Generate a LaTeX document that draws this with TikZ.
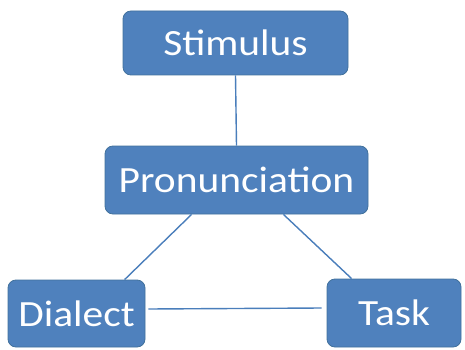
\documentclass[tikz,border=0pt]{standalone}
\usepackage{fontspec}
\setmainfont{Carlito}
\newfontfamily\boxfont[FakeStretch=1.12]{Carlito}
\definecolor{boxblue}{HTML}{4F81BD}
\definecolor{boxedge}{HTML}{41719C}
\definecolor{linkblue}{HTML}{4A7EBB}
\begin{document}
\begin{tikzpicture}[x=1pt,y=-1pt,
  box/.style={draw=boxedge,line width=0.8pt,fill=boxblue,rounded corners=8pt,text=white,
    font=\boxfont\fontsize{37}{40}\selectfont,inner sep=0pt},
  link/.style={draw=linkblue,line width=1.4pt}]
\useasboundingbox (0,0) rectangle (465,350);
\node[box,minimum width=225pt,minimum height=64pt] (s) at (235.5,43) {Stimulus};
\node[box,minimum width=263pt,minimum height=68pt] (p) at (236.5,180) {Pronunciation};
\node[box,minimum width=137pt,minimum height=67pt] (d) at (76.5,313.5) {Dialect};
\node[box,minimum width=134pt,minimum height=68pt] (t) at (394,313) {Task};
\draw[link] (s.south) -- (p.north);
\draw[link] ([xshift=87pt]p.south west) -- ([xshift=117pt]d.north west);
\draw[link] ([xshift=-85pt]p.south east) -- ([xshift=25pt]t.north west);
\draw[link] ([xshift=3pt,yshift=4.5pt]d.east) -- ([xshift=-5pt,yshift=5pt]t.west);
\end{tikzpicture}
\end{document}
